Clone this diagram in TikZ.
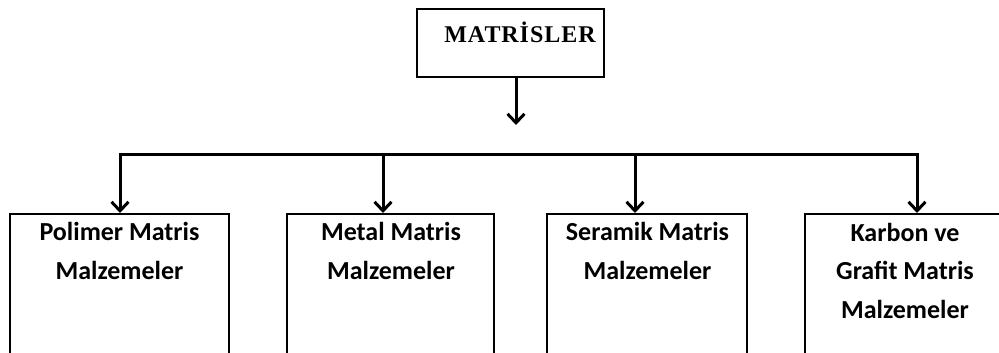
\documentclass[tikz,border=0pt]{standalone}
\usepackage{fontspec}
\setmainfont{Liberation Serif}
\newfontfamily\titlefont[LetterSpace=4]{Liberation Serif}
\newfontfamily\boxfont{Carlito}
\usetikzlibrary{arrows.meta}
\begin{document}
\begin{tikzpicture}[x=1pt,y=-1pt,
  conn/.style={line width=3pt,-{Straight Barb[length=9pt,width=17pt]}},
  bar/.style={line width=3pt,line cap=rect},
  topbox/.style={draw,line width=2.6pt,minimum width=187pt,minimum height=68pt,inner sep=0pt},
  matbox/.style={draw,line width=1.8pt,minimum height=220pt,inner sep=0pt,anchor=north},
  title/.style={font=\titlefont\bfseries\fontsize{24}{28}\selectfont,anchor=base,inner sep=0pt},
  lbl/.style={font=\boxfont\bfseries\fontsize{26}{38.5}\selectfont,align=center,anchor=base,inner sep=0pt}]
\useasboundingbox (0,0) rectangle (999,353);
\clip (0,0) rectangle (999,353);
\node[topbox] (top) at (510.5,43) {};
\node[title] (tt) at (520,43) {MATRİSLER};
\coordinate (a1) at (516,125);
\draw[conn] (top.south -| a1) -- (a1);
\node[matbox,minimum width=219pt] (b1) at (119.5,213) {};
\node[matbox,minimum width=207pt] (b2) at (390.5,213) {};
\node[matbox,minimum width=200pt] (b3) at (647,213) {};
\node[matbox,minimum width=200pt] (b4) at (905,213) {};
\node[lbl] (t1) at (119.5,279) {Polimer Matris\\Malzemeler};
\node[lbl] (t2) at (391,279) {Metal Matris\\Malzemeler};
\node[lbl] (t3) at (647.5,279) {Seramik Matris\\Malzemeler};
\node[lbl] (t4) at (905,318) {Karbon ve\\Grafit Matris\\Malzemeler};
\coordinate (h1) at (120,154);
\coordinate (h2) at (383,154);
\coordinate (h3) at (635,154);
\coordinate (h4) at (917,154);
\draw[bar] (h1) -- (h4);
\draw[conn] (h1) -- (h1 |- b1.north);
\draw[conn] (h2) -- (h2 |- b2.north);
\draw[conn] (h3) -- (h3 |- b3.north);
\draw[conn] (h4) -- (h4 |- b4.north);
\end{tikzpicture}
\end{document}
